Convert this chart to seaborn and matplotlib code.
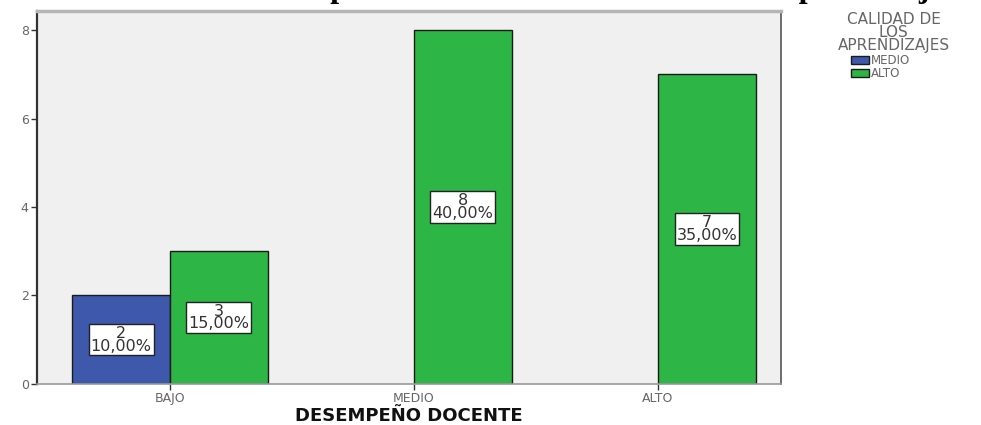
import matplotlib
matplotlib.use("Agg")
import matplotlib.pyplot as plt
import pandas as pd
import seaborn as sns

# data
desempeno = ["BAJO", "BAJO", "MEDIO", "ALTO"]
calidad = ["MEDIO", "ALTO", "ALTO", "ALTO"]
conteo = [2, 3, 8, 7]
porcentaje = [10.0, 15.0, 40.0, 35.0]

orden_x = ["BAJO", "MEDIO", "ALTO"]
orden_hue = ["MEDIO", "ALTO"]
colores = {"MEDIO": "#3E58AC", "ALTO": "#2DB545"}

titulo = "Influencia del desempeño docente en la calidad de los aprendizajes"

sns.set_theme(style="white")
plt.rcParams["font.family"] = ["DejaVu Sans"]

df = pd.DataFrame({"desempeno": desempeno, "calidad": calidad,
                   "conteo": conteo, "porcentaje": porcentaje})

fig = plt.figure(figsize=(9.81, 4.25), dpi=100)
ax = fig.add_axes([0.0377, 0.0965, 0.7584, 0.8776])
ax.set_facecolor("#F0F0F0")

sns.barplot(data=df, x="desempeno", y="conteo", hue="calidad",
            order=orden_x, hue_order=orden_hue, palette=colores,
            saturation=1, width=0.8, edgecolor="#1a1a1a", linewidth=1.0,
            ax=ax)

# white boxes with count and percent in the middle of each bar
for cont, nivel in zip(ax.containers, orden_hue):
    sub = df[df["calidad"] == nivel].set_index("desempeno").reindex(orden_x).dropna()
    etiquetas = [f"{int(n)}\n{p:.2f}%".replace(".", ",")
                 for n, p in zip(sub["conteo"], sub["porcentaje"])]
    ax.bar_label(cont, labels=etiquetas, label_type="center", fontsize=11.5,
                 color="#333333", linespacing=0.8,
                 bbox=dict(boxstyle="square,pad=0.12", facecolor="white",
                           edgecolor="#222222", linewidth=1.0))

ax.set_ylim(0, 8.43)
ax.set_xlim(-0.545, 2.504)
ax.set_yticks([0, 2, 4, 6, 8])
ax.tick_params(axis="both", which="both", direction="out", length=4, width=1,
               colors="#333333", labelcolor="#666666", labelsize=9, pad=2,
               left=True, bottom=True)

ax.set_ylabel("")
ax.set_xlabel("DESEMPEÑO DOCENTE", fontsize=13, fontweight="bold",
              color="#111111", labelpad=1)

ax.spines["top"].set_color("#B5B5B5")
ax.spines["top"].set_linewidth(2.5)
ax.spines["right"].set_color("#555555")
ax.spines["right"].set_linewidth(1.2)
ax.spines["left"].set_color("#333333")
ax.spines["left"].set_linewidth(1.6)
ax.spines["bottom"].set_color("#999999")
ax.spines["bottom"].set_linewidth(1.2)

# legend: title drawn separately so the items stay centred under it
fig.text(0.911, 0.972, "CALIDAD DE\nLOS\nAPRENDIZAJES", ha="center", va="top",
         multialignment="center", fontsize=11, color="#666666",
         linespacing=0.85)
leg = ax.legend(loc="upper center", bbox_to_anchor=(1.134, 0.9),
                frameon=False, fontsize=8.5, handlelength=1.55,
                handleheight=0.75, handletextpad=0.15, labelspacing=0.0,
                borderpad=0)
for t in leg.get_texts():
    t.set_color("#666666")

# title cut off by the top edge; only descenders remain visible
fig.text(0.512, 1.008, titulo, ha="center", va="baseline",
         fontsize=23, fontweight="bold", family="Liberation Serif",
         color="black")

fig.savefig("out.png", dpi=100)
